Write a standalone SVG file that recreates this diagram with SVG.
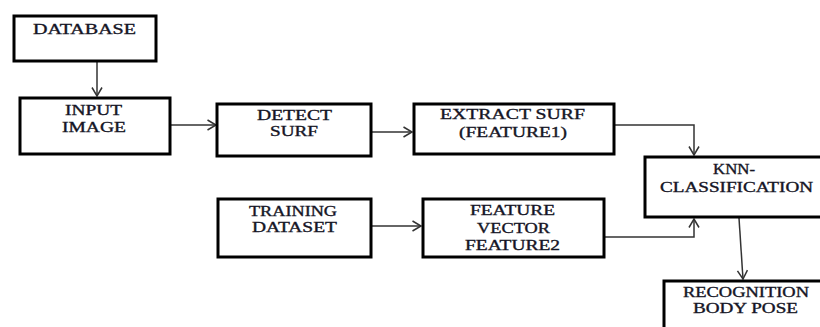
<svg xmlns="http://www.w3.org/2000/svg" width="820" height="327" viewBox="0 0 820 327">
<style>
.box{fill:#fff;stroke:#000;stroke-width:3}
.t{font-family:"Liberation Serif","Times New Roman",serif;font-size:14px;fill:#151525;stroke:#151525;stroke-width:0.35;text-anchor:middle}
.c{fill:none;stroke:#333;stroke-width:1.5}
</style>
<defs>
<marker id="arr" markerUnits="userSpaceOnUse" markerWidth="12" markerHeight="12" viewBox="0 0 12 12" refX="10" refY="6" orient="auto">
<path d="M1.5,1 L10,6 L1.5,11" fill="none" stroke="#333" stroke-width="1.5"/>
</marker>
</defs>
<rect width="820" height="327" fill="#fff"/>
<g id="connectors">
<path class="c" d="M97,62 L97,96" marker-end="url(#arr)"/>
<path class="c" d="M171,125 L216,125" marker-end="url(#arr)"/>
<path class="c" d="M372,132 L412,132" marker-end="url(#arr)"/>
<path class="c" d="M615,125 L694,125 L694,155" marker-end="url(#arr)"/>
<path class="c" d="M605,237 L694,237 L694,219" marker-end="url(#arr)"/>
<path class="c" d="M372,226 L421,226" marker-end="url(#arr)"/>
<path class="c" d="M739,218 L743,279" marker-end="url(#arr)"/>
</g>
<g id="database">
<rect class="box" x="14" y="16" width="142" height="45"/>
<text class="t" x="84.5" y="34" textLength="103" lengthAdjust="spacingAndGlyphs">DATABASE</text>
</g>
<g id="input-image">
<rect class="box" x="20" y="98" width="150" height="56"/>
<text class="t" x="93.5" y="115" textLength="57" lengthAdjust="spacingAndGlyphs">INPUT</text>
<text class="t" x="94" y="132" textLength="64" lengthAdjust="spacingAndGlyphs">IMAGE</text>
</g>
<g id="detect-surf">
<rect class="box" x="217" y="104" width="154" height="52"/>
<text class="t" x="294.5" y="120" textLength="75" lengthAdjust="spacingAndGlyphs">DETECT</text>
<text class="t" x="294" y="136" textLength="48" lengthAdjust="spacingAndGlyphs">SURF</text>
</g>
<g id="extract-surf">
<rect class="box" x="414" y="104" width="200" height="50"/>
<text class="t" x="512.5" y="119" textLength="145" lengthAdjust="spacingAndGlyphs">EXTRACT SURF</text>
<text class="t" x="513" y="137" textLength="108" lengthAdjust="spacingAndGlyphs">(FEATURE1)</text>
</g>
<g id="knn">
<rect class="box" x="645" y="157" width="185" height="60"/>
<text class="t" x="734" y="174" textLength="42" lengthAdjust="spacingAndGlyphs">KNN-</text>
<text class="t" x="736.5" y="192" textLength="153" lengthAdjust="spacingAndGlyphs">CLASSIFICATION</text>
</g>
<g id="training-dataset">
<rect class="box" x="218" y="199" width="153" height="58"/>
<text class="t" x="293" y="216" textLength="88" lengthAdjust="spacingAndGlyphs">TRAINING</text>
<text class="t" x="294.5" y="232" textLength="85" lengthAdjust="spacingAndGlyphs">DATASET</text>
</g>
<g id="feature-vector">
<rect class="box" x="423" y="199" width="181" height="58"/>
<text class="t" x="512.5" y="215" textLength="85" lengthAdjust="spacingAndGlyphs">FEATURE</text>
<text class="t" x="513.5" y="233" textLength="73" lengthAdjust="spacingAndGlyphs">VECTOR</text>
<text class="t" x="512.5" y="250" textLength="95" lengthAdjust="spacingAndGlyphs">FEATURE2</text>
</g>
<g id="recognition">
<rect class="box" x="664" y="281" width="170" height="60"/>
<text class="t" x="746" y="297" textLength="126" lengthAdjust="spacingAndGlyphs">RECOGNITION</text>
<text class="t" x="745.5" y="313" textLength="105" lengthAdjust="spacingAndGlyphs">BODY POSE</text>
</g>
</svg>
